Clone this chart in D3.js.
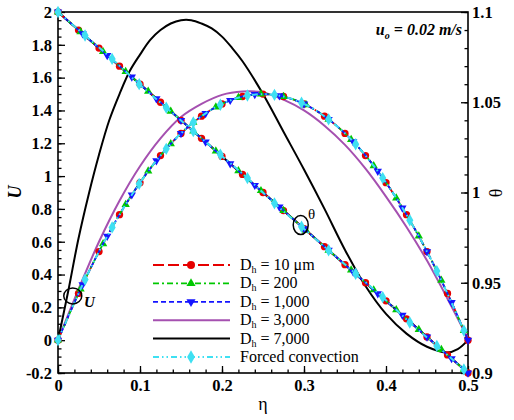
<!DOCTYPE html>
<html>
<head>
<meta charset="utf-8">
<script src="https://cdn.jsdelivr.net/npm/d3@7"></script>
<style>
  body { margin: 0; background: #fff; }
  svg { display: block; }
  svg text { font-family: "Liberation Serif", "Times New Roman", "DejaVu Serif", serif; }
</style>
</head>
<body>
<div id="svg-container"></div>
<script>
// sample points along eta for each case
const etaA = [0, 0.025, 0.05, 0.075, 0.1, 0.125, 0.15, 0.175, 0.2, 0.225, 0.25, 0.275, 0.3, 0.325, 0.35, 0.375, 0.4, 0.425, 0.45, 0.475, 0.5]
const uRed = [0, 0.285, 0.54, 0.765, 0.96, 1.125, 1.26, 1.365, 1.44, 1.485, 1.5, 1.485, 1.44, 1.365, 1.26, 1.125, 0.96, 0.765, 0.54, 0.285, 0]
const thRed = [1.1, 1.09, 1.08, 1.07, 1.06, 1.05, 1.04, 1.03, 1.02, 1.01, 1.0, 0.99, 0.98, 0.97, 0.96, 0.95, 0.94, 0.93, 0.92, 0.91, 0.9]

const etaGreen = [0, 0.0275, 0.055, 0.0825, 0.11, 0.1375, 0.165, 0.1925, 0.22, 0.2475, 0.275, 0.3025, 0.33, 0.3575, 0.385, 0.4125, 0.44, 0.4675, 0.495]
const uGreen = [0, 0.312, 0.587, 0.827, 1.03, 1.196, 1.327, 1.421, 1.478, 1.5, 1.485, 1.434, 1.346, 1.223, 1.063, 0.866, 0.634, 0.365, 0.059]
const thGreen = [1.1, 1.089, 1.078, 1.067, 1.056, 1.045, 1.034, 1.023, 1.012, 1.001, 0.99, 0.979, 0.968, 0.957, 0.946, 0.935, 0.924, 0.913, 0.902]

const etaBlue = [0, 0.03, 0.06, 0.09, 0.12, 0.15, 0.18, 0.21, 0.24, 0.27, 0.3, 0.33, 0.36, 0.39, 0.42, 0.45, 0.48, 0.5]
const uBlue = [0, 0.338, 0.634, 0.886, 1.094, 1.26, 1.382, 1.462, 1.498, 1.49, 1.44, 1.346, 1.21, 1.03, 0.806, 0.54, 0.23, 0]
const thBlue = [1.1, 1.088, 1.076, 1.064, 1.052, 1.04, 1.028, 1.016, 1.004, 0.992, 0.98, 0.968, 0.956, 0.944, 0.932, 0.92, 0.908, 0.9]

const uPurple = [0, 0.31, 0.6, 0.85, 1.06, 1.23, 1.36, 1.44, 1.495, 1.515, 1.51, 1.466, 1.4, 1.307, 1.19, 1.045, 0.875, 0.69, 0.485, 0.253, 0.01]

const etaBlack = [0, 0.0125, 0.025, 0.0375, 0.05, 0.0625, 0.075, 0.0875, 0.1, 0.1125, 0.125, 0.1375, 0.15, 0.1625, 0.175, 0.1875, 0.2, 0.2125, 0.225, 0.25, 0.275, 0.3, 0.325, 0.35, 0.375, 0.4, 0.425, 0.45, 0.475, 0.4875, 0.5]
const uBlack = [0, 0.3, 0.62, 0.89, 1.13, 1.34, 1.5, 1.64, 1.74, 1.83, 1.89, 1.93, 1.95, 1.95, 1.93, 1.9, 1.85, 1.78, 1.7, 1.5, 1.27, 1.04, 0.8, 0.55, 0.33, 0.16, 0.04, -0.04, -0.075, -0.055, 0]

const etaCyan = [0, 0.033, 0.066, 0.099, 0.132, 0.165, 0.198, 0.231, 0.264, 0.297, 0.33, 0.363, 0.396, 0.429, 0.462, 0.495]
const uCyan = [0, 0.37, 0.687, 0.953, 1.166, 1.327, 1.435, 1.491, 1.495, 1.447, 1.346, 1.194, 0.988, 0.731, 0.421, 0.059]
const thCyan = [1.1, 1.087, 1.074, 1.06, 1.047, 1.034, 1.021, 1.008, 0.994, 0.981, 0.968, 0.955, 0.942, 0.928, 0.915, 0.902]

const labels = ["10 \u03bcm", "200", "1,000", "3,000", "7,000"]

const xTicks = [0, 0.1, 0.2, 0.3, 0.4, 0.5]
const uTicks = [-0.2, 0, 0.2, 0.4, 0.6, 0.8, 1, 1.2, 1.4, 1.6, 1.8, 2]
const thTicks = [0.9, 0.95, 1, 1.05, 1.1]

const svg = d3.select("#svg-container")
  .append("svg")
    .attr("width", 514)
    .attr("height", 420)

const padL = 58, padR = 468, padT = 12, padB = 373

const x = d3.scaleLinear().domain([0, 0.5]).range([padL, padR])
const yU = d3.scaleLinear().domain([-0.2, 2]).range([padB, padT])
const yT = d3.scaleLinear().domain([0.9, 1.1]).range([padB, padT])

const serif = "Liberation Serif, Times New Roman, DejaVu Serif, serif"

// axes: ticks pointing inwards
const styleAxis = g => {
  g.attr("font-family", serif)
  g.select(".domain").remove()
  g.selectAll("line").attr("stroke", "black").attr("stroke-width", 1.3)
  g.selectAll("text")
    .attr("font-family", serif)
    .attr("font-size", 16.5)
    .attr("font-weight", "bold")
    .attr("fill", "black")
}

svg.append("g")
  .attr("transform", `translate(${padL},0)`)
  .call(d3.axisLeft(yU).tickValues(d3.range(-0.2, 2.001, 0.05)).tickSize(-3.5).tickFormat(""))
  .call(styleAxis)
svg.append("g")
  .attr("transform", `translate(${padL},0)`)
  .call(d3.axisLeft(yU).tickValues(uTicks).tickSize(-7).tickPadding(6).tickFormat(d => d))
  .call(styleAxis)

svg.append("g")
  .attr("transform", `translate(0,${padB})`)
  .call(d3.axisBottom(x).tickValues(d3.range(0, 0.501, 0.02)).tickSize(-3.5).tickFormat(""))
  .call(styleAxis)
svg.append("g")
  .attr("transform", `translate(0,${padB})`)
  .call(d3.axisBottom(x).tickValues(xTicks).tickSize(-7).tickPadding(6).tickFormat(d => d))
  .call(styleAxis)

svg.append("g")
  .attr("transform", `translate(${padR},0)`)
  .call(d3.axisRight(yT).tickValues(d3.range(0.9, 1.1001, 0.01)).tickSize(-3.5).tickFormat(""))
  .call(styleAxis)
svg.append("g")
  .attr("transform", `translate(${padR},0)`)
  .call(d3.axisRight(yT).tickValues(thTicks).tickSize(-7).tickPadding(4).tickFormat(d => d))
  .call(styleAxis)

// frame
svg.append("rect")
  .attr("x", padL).attr("y", padT)
  .attr("width", padR - padL).attr("height", padB - padT)
  .attr("fill", "none").attr("stroke", "black").attr("stroke-width", 1.6)

const zip = (a, b) => a.map((d, i) => [d, b[i]])

const series = [
  { name: labels[3], color: "#a550b0", dash: null, width: 2, eta: etaA, u: uPurple, th: thRed, marker: null },
  { name: labels[4], color: "#000000", dash: null, width: 2, eta: etaBlack, u: uBlack, thEta: etaA, th: thRed, marker: null },
  { name: labels[0], color: "#e60000", dash: "11,4", width: 1.8, eta: etaA, u: uRed, th: thRed, marker: d3.symbolCircle, size: 42 },
  { name: labels[1], color: "#00c800", dash: "6,3,2,3", width: 1.8, eta: etaGreen, u: uGreen, th: thGreen, marker: d3.symbolTriangle, size: 30 },
  { name: labels[2], color: "#1414ff", dash: "5,3", width: 1.8, eta: etaBlue, u: uBlue, th: thBlue, marker: d3.symbolTriangle, size: 30, flip: true },
  { name: "Forced convection", color: "#3ee0f2", dash: "6,3,1.5,3,1.5,3", width: 2, eta: etaCyan, u: uCyan, th: thCyan, marker: d3.symbolDiamond, size: 44 }
]

const lineU = d3.line().x(d => x(d[0])).y(d => yU(d[1])).curve(d3.curveCatmullRom.alpha(0.5))
const lineT = d3.line().x(d => x(d[0])).y(d => yT(d[1])).curve(d3.curveCatmullRom.alpha(0.5))

const plot = svg.append("g")

series.forEach(s => {
  const ptsU = zip(s.eta, s.u)
  const ptsT = zip(s.thEta || s.eta, s.th)
  const g = plot.append("g")
  g.append("path").attr("d", lineU(ptsU))
    .attr("fill", "none").attr("stroke", s.color).attr("stroke-width", s.width)
    .attr("stroke-dasharray", s.dash)
  g.append("path").attr("d", lineT(ptsT))
    .attr("fill", "none").attr("stroke", s.color).attr("stroke-width", s.width)
    .attr("stroke-dasharray", s.dash)
  if (s.marker) {
    const sym = d3.symbol().type(s.marker).size(s.size)
    g.selectAll(".mu").data(ptsU).join("path")
      .attr("d", sym)
      .attr("transform", d => `translate(${x(d[0])},${yU(d[1])})${s.flip ? " rotate(180)" : ""}`)
      .attr("fill", s.color)
    g.selectAll(".mt").data(ptsT).join("path")
      .attr("d", sym)
      .attr("transform", d => `translate(${x(d[0])},${yT(d[1])})${s.flip ? " rotate(180)" : ""}`)
      .attr("fill", s.color)
  }
})

// legend
const legendOrder = [series[2], series[3], series[4], series[0], series[1], series[5]]
const legend = svg.append("g")
legendOrder.forEach((s, i) => {
  const yy = 265 + i * 18.4
  legend.append("line")
    .attr("x1", 153).attr("x2", 230).attr("y1", yy).attr("y2", yy)
    .attr("stroke", s.color).attr("stroke-width", s.width)
    .attr("stroke-dasharray", s.dash)
  if (s.marker) {
    legend.append("path")
      .attr("d", d3.symbol().type(s.marker).size(s.size * 1.2))
      .attr("transform", `translate(191,${yy})${s.flip ? " rotate(180)" : ""}`)
      .attr("fill", s.color)
  }
  const t = legend.append("text")
    .attr("x", 240).attr("y", yy + 5)
    .attr("font-family", serif).attr("font-size", 16)
  if (s.name === "Forced convection") {
    t.text(s.name)
  } else {
    t.append("tspan").text("D")
    t.append("tspan").text("h").attr("font-size", 10).attr("dy", 3)
    t.append("tspan").text(" = " + s.name).attr("dy", -3)
  }
})

// annotations
svg.append("ellipse")
  .attr("cx", x(0.018)).attr("cy", yU(0.27)).attr("rx", 9).attr("ry", 8)
  .attr("fill", "none").attr("stroke", "black").attr("stroke-width", 1.5)
svg.append("text")
  .attr("x", 84).attr("y", 307)
  .text("U")
  .attr("font-family", serif).attr("font-size", 15)
  .attr("font-style", "italic").attr("font-weight", "bold")

svg.append("ellipse")
  .attr("cx", x(0.296)).attr("cy", yT(0.982)).attr("rx", 7.5).attr("ry", 9.5)
  .attr("fill", "none").attr("stroke", "black").attr("stroke-width", 1.5)
svg.append("text")
  .attr("x", 308).attr("y", 219)
  .text("\u03b8")
  .attr("font-family", serif).attr("font-size", 15)

const uo = svg.append("text")
  .attr("x", 462).attr("y", 35)
  .attr("text-anchor", "end")
  .attr("font-family", serif).attr("font-size", 16)
  .attr("font-style", "italic").attr("font-weight", "bold")
uo.append("tspan").text("u")
uo.append("tspan").text("o").attr("font-size", 10).attr("dy", 4)
uo.append("tspan").text(" = 0.02 m/s").attr("dy", -4)

// axis titles
svg.append("text")
  .attr("transform", "translate(21,192) rotate(-90)")
  .attr("text-anchor", "middle")
  .text("U")
  .attr("font-family", serif).attr("font-size", 18)
  .attr("font-style", "italic").attr("font-weight", "bold")

svg.append("text")
  .attr("transform", "translate(502,193) rotate(-90)")
  .attr("text-anchor", "middle")
  .text("\u03b8")
  .attr("font-family", serif).attr("font-size", 18)

svg.append("text")
  .attr("x", 263).attr("y", 410)
  .attr("text-anchor", "middle")
  .text("\u03b7")
  .attr("font-family", serif).attr("font-size", 18)
</script>
</body>
</html>
